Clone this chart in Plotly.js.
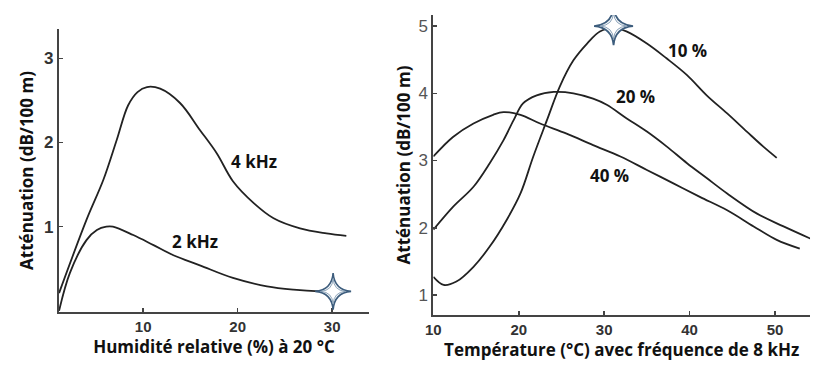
<!DOCTYPE html>
<html>
<head>
<meta charset="utf-8">
<script src="https://cdn.plot.ly/plotly-3.0.1.min.js"></script>
<style>html,body{margin:0;padding:0;background:#fff;}#chart{width:840px;height:378px;}</style>
</head>
<body>
<div id="chart"></div>
<script>
// Left panel: attenuation vs relative humidity at 20 °C
const humX4k = [1.1, 4.0, 5.8, 7.2, 8.4, 9.4, 10.4, 11.8, 13.9, 16.0, 17.8, 19.5, 21.7, 23.8, 26.6, 29.4, 31.5];
const humY4k = [0.21, 1.08, 1.56, 2.03, 2.44, 2.60, 2.66, 2.64, 2.47, 2.15, 1.87, 1.54, 1.28, 1.10, 0.98, 0.92, 0.89];
const humX2k = [1.1, 2.25, 4.0, 5.1, 6.1, 6.8, 8.95, 11.1, 13.2, 16.0, 19.5, 23.1, 25.9, 28.7, 30.1];
const humY2k = [0.0, 0.45, 0.84, 0.96, 1.0, 1.0, 0.90, 0.78, 0.66, 0.54, 0.39, 0.29, 0.25, 0.23, 0.23];
const humStar = {x: 30.1, y: 0.23};
const leftXTicks = [10, 20, 30];
const leftYTicks = [1, 2, 3];

// Right panel: attenuation vs temperature at 8 kHz
const tX10 = [10, 11.2, 12.7, 14.7, 16.6, 18.6, 20.2, 21.7, 23.3, 24.8, 26.4, 28.0, 29.5, 31.1, 32.6, 35.0, 37.3, 39.7, 42.0, 44.4, 46.7, 48.6, 50.2];
const tY10 = [1.27, 1.15, 1.20, 1.42, 1.72, 2.12, 2.51, 3.06, 3.60, 4.10, 4.49, 4.74, 4.92, 4.97, 4.92, 4.74, 4.52, 4.27, 3.97, 3.70, 3.43, 3.21, 3.04];
const tX20 = [10, 12.3, 14.7, 16.6, 18.2, 19.4, 20.5, 22.1, 24.1, 26.4, 28.7, 30.3, 32.6, 35.0, 37.3, 39.7, 42.0, 44.4, 47.9, 51.0, 54.3];
const tY20 = [1.97, 2.31, 2.61, 2.96, 3.30, 3.60, 3.85, 3.97, 4.02, 4.00, 3.92, 3.83, 3.63, 3.43, 3.21, 2.96, 2.74, 2.51, 2.21, 2.02, 1.83];
const tX40 = [10, 12.3, 14.7, 17.0, 18.2, 20.2, 22.5, 25.6, 28.7, 31.9, 35.0, 38.1, 41.2, 44.4, 47.5, 50.2, 52.9];
const tY40 = [3.06, 3.35, 3.55, 3.68, 3.72, 3.68, 3.55, 3.40, 3.23, 3.06, 2.86, 2.66, 2.46, 2.26, 2.02, 1.82, 1.69];
const tStar = {x: 31.1, y: 5.0};
const rightXTicks = [10, 20, 30, 40, 50];
const rightYTicks = [1, 2, 3, 4, 5];

const lineStyle = {color: '#222', width: 1.8, shape: 'spline', smoothing: 1};

// four-pointed star glyph (decoration)
const starSvg = '<svg xmlns="http://www.w3.org/2000/svg" width="40" height="40" viewBox="0 0 40 40">' +
  '<path d="M20,1 Q21.4,18.6 39,20 Q21.4,21.4 20,39 Q18.6,21.4 1,20 Q18.6,18.6 20,1 Z" fill="#f4f7fa" stroke="#3d5d7d" stroke-width="1.7"/>' +
  '<path d="M20,7 Q20.8,19.2 33,20 Q20.8,20.8 20,33 Q19.2,20.8 7,20 Q19.2,19.2 20,7 Z" fill="#ffffff" stroke="#7f98b0" stroke-width="0.9"/>' +
  '</svg>';
const starSrc = 'data:image/svg+xml;charset=utf-8,' + encodeURIComponent(starSvg);

const traces = [
  {x: humX4k, y: humY4k, mode: 'lines', line: lineStyle, xaxis: 'x', yaxis: 'y'},
  {x: humX2k, y: humY2k, mode: 'lines', line: lineStyle, xaxis: 'x', yaxis: 'y'},
  {x: tX10, y: tY10, mode: 'lines', line: lineStyle, xaxis: 'x2', yaxis: 'y2'},
  {x: tX20, y: tY20, mode: 'lines', line: lineStyle, xaxis: 'x2', yaxis: 'y2'},
  {x: tX40, y: tY40, mode: 'lines', line: lineStyle, xaxis: 'x2', yaxis: 'y2'}
];

const titleFont = {family: 'Open Sans, sans-serif', size: 17, color: '#111', weight: 'bold'};
const annFont = {family: 'Open Sans, sans-serif', size: 17, color: '#111', weight: 'bold'};
const boldXTick = {family: 'Liberation Sans, Arial, sans-serif', size: 15, color: '#333', weight: 'bold'};
const boldYTick = {family: 'Liberation Sans, Arial, sans-serif', size: 17, color: '#333', weight: 'bold'};
const thinTick = {family: 'Liberation Sans Narrow, Arial Narrow, sans-serif', size: 17, color: '#555'};
const axisCommon = {showgrid: false, zeroline: false, showline: true, linecolor: '#444', linewidth: 2,
  ticks: 'inside', ticklen: 4, tickcolor: '#444', tickwidth: 1.5, fixedrange: true};

const layout = {
  width: 840, height: 378,
  margin: {l: 0, r: 0, t: 0, b: 0},
  paper_bgcolor: '#fff', plot_bgcolor: '#fff',
  showlegend: false,
  xaxis: Object.assign({}, axisCommon, {domain: [0.0702, 0.4393], range: [1.09, 33.9],
    tickvals: leftXTicks, tickfont: boldXTick, anchor: 'y',
    title: {text: 'Humidité relative (%) à 20 °C', font: titleFont, standoff: 4}}),
  yaxis: Object.assign({}, axisCommon, {domain: [0.1746, 0.9233], range: [-0.015, 3.35],
    tickvals: leftYTicks, tickfont: boldYTick, anchor: 'x', ticklabelstandoff: 0,
    title: {text: 'Atténuation (dB/100 m)', font: titleFont, standoff: 6}}),
  xaxis2: Object.assign({}, axisCommon, {domain: [0.5159, 0.9643], range: [10, 54.1],
    tickvals: rightXTicks, tickfont: boldXTick, anchor: 'y2',
    title: {text: 'Température (°C) avec fréquence de 8 kHz', font: titleFont, standoff: 4}}),
  yaxis2: Object.assign({}, axisCommon, {domain: [0.1667, 0.9603], range: [0.703, 5.164],
    tickvals: rightYTicks, tickfont: thinTick, anchor: 'x2', ticklabelstandoff: 0,
    title: {text: 'Atténuation (dB/100 m)', font: titleFont, standoff: 4}}),
  images: [
    {source: starSrc, xref: 'x', yref: 'y', x: humStar.x, y: humStar.y, sizex: 4.0, sizey: 0.46,
     xanchor: 'center', yanchor: 'middle', sizing: 'stretch', layer: 'above'},
    {source: starSrc, xref: 'x2', yref: 'y2', x: tStar.x, y: tStar.y, sizex: 4.8, sizey: 0.6,
     xanchor: 'center', yanchor: 'middle', sizing: 'stretch', layer: 'above'}
  ],
  annotations: [
    {x: 21.7, y: 1.77, xref: 'x', yref: 'y', text: '4 kHz', showarrow: false, font: annFont},
    {x: 15.5, y: 0.82, xref: 'x', yref: 'y', text: '2 kHz', showarrow: false, font: annFont},
    {x: 39.7, y: 4.64, xref: 'x2', yref: 'y2', text: '10 %', showarrow: false, font: annFont},
    {x: 33.7, y: 3.95, xref: 'x2', yref: 'y2', text: '20 %', showarrow: false, font: annFont},
    {x: 30.6, y: 2.78, xref: 'x2', yref: 'y2', text: '40 %', showarrow: false, font: annFont}
  ]
};

Plotly.newPlot('chart', traces, layout, {staticPlot: true, displayModeBar: false});
</script>
</body>
</html>
